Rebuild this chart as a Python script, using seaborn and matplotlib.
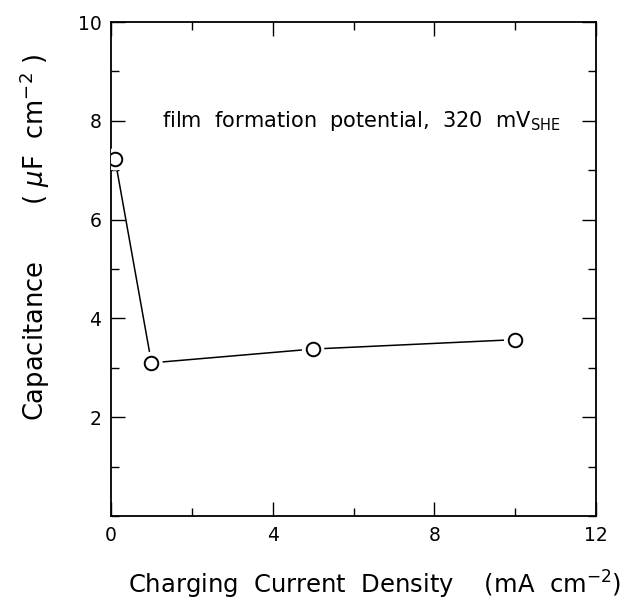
import matplotlib
matplotlib.use("Agg")
import matplotlib.pyplot as plt
import seaborn as sns
import pandas as pd
from matplotlib.ticker import MultipleLocator, FixedLocator

current_density = [0.1, 1.0, 5.0, 10.0]
capacitance = [7.22, 3.10, 3.38, 3.57]
x_ticks = [0, 4, 8, 12]
y_ticks = [2, 4, 6, 8, 10]

df = pd.DataFrame({"j": current_density, "C": capacitance})

sns.set_style("ticks")
plt.rcParams["font.family"] = ["DejaVu Sans"]
plt.rcParams["mathtext.fontset"] = "dejavusans"
plt.rcParams["text.color"] = "black"

fig = plt.figure(figsize=(6.28, 6.08), dpi=100)
ax = fig.add_axes([0.1768, 0.1513, 0.7722, 0.8125])

sns.lineplot(data=df, x="j", y="C", color="black", linewidth=1.1, ax=ax, zorder=2)
sns.scatterplot(data=df, x="j", y="C", s=260, color="white", edgecolor="none", ax=ax, zorder=3, legend=False)
sns.scatterplot(data=df, x="j", y="C", s=95, facecolor="white", edgecolor="black", linewidth=1.4, ax=ax, zorder=4, legend=False)

ax.set_xlim(0, 12)
ax.set_ylim(0, 10)
ax.xaxis.set_major_locator(FixedLocator(x_ticks))
ax.xaxis.set_minor_locator(MultipleLocator(2))
ax.yaxis.set_major_locator(FixedLocator(y_ticks))
ax.yaxis.set_minor_locator(MultipleLocator(1))
ax.tick_params(which="both", direction="in", top=True, right=True, width=1.0, labelsize=13.5, colors="black")
ax.tick_params(which="major", length=10, pad=7)
ax.tick_params(which="minor", length=6)
for s in ax.spines.values():
    s.set_linewidth(1.3)
    s.set_color("black")

ax.set_xlabel("")
ax.set_ylabel("")
fig.text(0.597, 0.038, "Charging  Current  Density    (mA  cm$^{-2}$)", ha="center", va="center", fontsize=17.5, color="black")
fig.text(0.056, 0.61, "Capacitance       ( $\\mu$F  cm$^{-2}$ )", ha="center", va="center", rotation=90, fontsize=18.5, color="black")
ax.text(1.25, 8.0, "film  formation  potential,  320  mV$_{\\mathrm{SHE}}$", fontsize=15, ha="left", va="center", color="black")

fig.savefig("out.png", dpi=100, facecolor="white")
